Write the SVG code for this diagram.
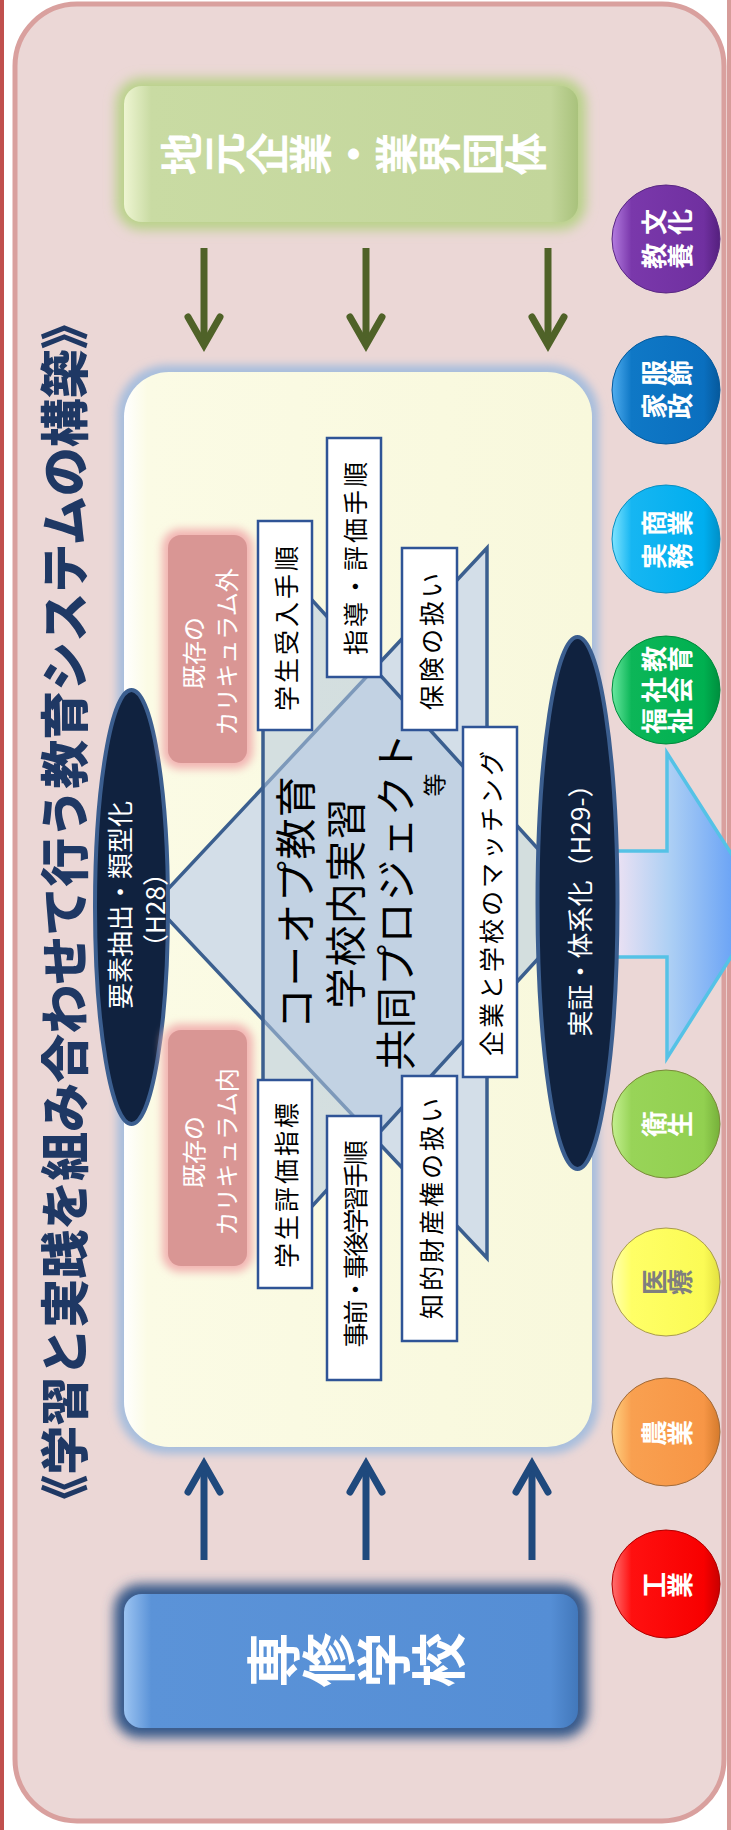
<svg xmlns="http://www.w3.org/2000/svg" width="731" height="1830" viewBox="0 0 731 1830">
<defs>
<style>
.t{font-family:"Noto Sans CJK JP","Noto Sans",sans-serif;}
.rt{text-anchor:middle;dominant-baseline:central;}
.box{fill:#ffffff;stroke:#2f5496;stroke-width:2.5}
.bt{font-size:25px;fill:#000000;letter-spacing:3px}
.ct{font-size:41px;fill:#000000;letter-spacing:1.4px}
.et{font-size:26px;fill:#ffffff}
.pt{font-size:24px;fill:#ffffff}
.ell{fill:#10223f;stroke:#3b5e8f;stroke-width:4}
.pk{fill:#d99694}
.ci{font-size:26px;font-weight:bold;fill:#ffffff}
.ga{stroke:#4f6228;stroke-width:7;fill:none}
.ba{stroke:#1f497d;stroke-width:7;fill:none}
</style>
<filter id="blur6" x="-30%" y="-30%" width="160%" height="160%"><feGaussianBlur stdDeviation="6"/></filter>
<filter id="blur4" x="-30%" y="-30%" width="160%" height="160%"><feGaussianBlur stdDeviation="4"/></filter>
<marker id="mg" markerUnits="userSpaceOnUse" viewBox="-36 -22 44 44" markerWidth="44" markerHeight="44" refX="0" refY="0" orient="auto" overflow="visible">
<path d="M-28,-16 L0,0 L-28,16" fill="none" stroke="#4f6228" stroke-width="7" stroke-linecap="round"/>
</marker>
<marker id="mb" markerUnits="userSpaceOnUse" viewBox="-36 -22 44 44" markerWidth="44" markerHeight="44" refX="0" refY="0" orient="auto" overflow="visible">
<path d="M-28,-16 L0,0 L-28,16" fill="none" stroke="#1f497d" stroke-width="7" stroke-linecap="round"/>
</marker>
<linearGradient id="gGreen" x1="0" y1="0" x2="1" y2="0">
<stop offset="0" stop-color="#eef5d2"/><stop offset="0.06" stop-color="#c9dba3"/><stop offset="0.94" stop-color="#c3d69b"/><stop offset="1" stop-color="#a9c27c"/>
</linearGradient>
<linearGradient id="gBlue" x1="0" y1="0" x2="1" y2="0">
<stop offset="0" stop-color="#9cc4f2"/><stop offset="0.06" stop-color="#5b93d8"/><stop offset="0.94" stop-color="#558ed5"/><stop offset="1" stop-color="#4278bb"/>
</linearGradient>
<linearGradient id="gCream" x1="0" y1="0" x2="1" y2="0">
<stop offset="0" stop-color="#ffffff"/><stop offset="0.05" stop-color="#fbfbe5"/><stop offset="1" stop-color="#f8f8dc"/>
</linearGradient>
<linearGradient id="gArrow" gradientUnits="userSpaceOnUse" x1="610" y1="0" x2="740" y2="0">
<stop offset="0" stop-color="#f3e3f3"/><stop offset="0.45" stop-color="#aed0f4"/><stop offset="1" stop-color="#649ff6"/>
</linearGradient>
<linearGradient id="cPur" x1="0" y1="0" x2="1" y2="0"><stop offset="0" stop-color="#b37ce0"/><stop offset="0.18" stop-color="#7a38ab"/><stop offset="0.85" stop-color="#7030a0"/><stop offset="1" stop-color="#55207e"/></linearGradient>
<linearGradient id="cBlu" x1="0" y1="0" x2="1" y2="0"><stop offset="0" stop-color="#50aef0"/><stop offset="0.18" stop-color="#0f78c6"/><stop offset="0.85" stop-color="#0a6fbf"/><stop offset="1" stop-color="#06599c"/></linearGradient>
<linearGradient id="cCya" x1="0" y1="0" x2="1" y2="0"><stop offset="0" stop-color="#7fe4ff"/><stop offset="0.18" stop-color="#16b6f2"/><stop offset="0.85" stop-color="#00aeef"/><stop offset="1" stop-color="#0090c8"/></linearGradient>
<linearGradient id="cGrn" x1="0" y1="0" x2="1" y2="0"><stop offset="0" stop-color="#6ae8a0"/><stop offset="0.18" stop-color="#0cb658"/><stop offset="0.85" stop-color="#00b050"/><stop offset="1" stop-color="#008f3e"/></linearGradient>
<linearGradient id="cLim" x1="0" y1="0" x2="1" y2="0"><stop offset="0" stop-color="#c4f090"/><stop offset="0.18" stop-color="#98d458"/><stop offset="0.85" stop-color="#92d050"/><stop offset="1" stop-color="#76b03a"/></linearGradient>
<linearGradient id="cYel" x1="0" y1="0" x2="1" y2="0"><stop offset="0" stop-color="#ffffb0"/><stop offset="0.18" stop-color="#ffff66"/><stop offset="0.85" stop-color="#fbfb55"/><stop offset="1" stop-color="#e2e040"/></linearGradient>
<linearGradient id="cOra" x1="0" y1="0" x2="1" y2="0"><stop offset="0" stop-color="#ffd080"/><stop offset="0.18" stop-color="#f9a050"/><stop offset="0.85" stop-color="#f79646"/><stop offset="1" stop-color="#d47a2c"/></linearGradient>
<linearGradient id="cRed" x1="0" y1="0" x2="1" y2="0"><stop offset="0" stop-color="#ff7070"/><stop offset="0.18" stop-color="#ff1010"/><stop offset="0.85" stop-color="#f80000"/><stop offset="1" stop-color="#c80000"/></linearGradient>
</defs>

<g id="frame">
<rect width="731" height="1830" fill="#ffffff"/>
<rect x="0" y="0" width="4" height="1830" fill="#c0504d"/>
<rect x="727" y="0" width="4" height="1830" fill="#d79c9a"/>
<rect x="15" y="4" width="709" height="1817" rx="62" fill="#ebd7d6" stroke="#d9a09e" stroke-width="5"/>
</g>

<g id="title">
<text class="t rt" transform="translate(61,912) rotate(-90)" font-size="49" font-weight="900" fill="#1f3864">《学習と実践を組み合わせて行う教育システムの構築》</text>
</g>

<g id="node-jimoto">
<rect x="116" y="78" width="470" height="152" rx="26" fill="#b9d28a" filter="url(#blur6)"/>
<rect x="124" y="86" width="454" height="136" rx="18" fill="url(#gGreen)"/>
<text class="t" x="198.3" y="175.5" rotate="-90" font-size="43" font-weight="bold" fill="#ffffff">地元企業・業界団体</text>
</g>

<g id="node-inner">
<rect x="117" y="365" width="482" height="1089" rx="50" fill="#a7bedd" filter="url(#blur4)"/>
<rect x="124" y="372" width="468" height="1075" rx="45" fill="url(#gCream)"/>
</g>

<g id="bowtie">
<polygon points="154,904 487,548 487,1258" fill="#d3dee8" stroke="#3b5f8f" stroke-width="3.5" stroke-linejoin="miter"/>
<polygon points="588,904 263,546 263,1260" fill="#b4c9de" fill-opacity="0.55" stroke="#3b5f8f" stroke-width="3.5"/>
</g>

<g id="connectors">
<path d="M600,851 L667,851 L667,753 L764,905 L667,1058 L667,957 L600,957 Z" fill="url(#gArrow)" stroke="#55c2e6" stroke-width="3.5"/>
<line class="ga" x1="204" y1="248" x2="204" y2="345" marker-end="url(#mg)"/>
<line class="ga" x1="366" y1="248" x2="366" y2="345" marker-end="url(#mg)"/>
<line class="ga" x1="548" y1="248" x2="548" y2="345" marker-end="url(#mg)"/>
<line class="ba" x1="204" y1="1560" x2="204" y2="1464" marker-end="url(#mb)"/>
<line class="ba" x1="366" y1="1560" x2="366" y2="1464" marker-end="url(#mb)"/>
<line class="ba" x1="532" y1="1560" x2="532" y2="1464" marker-end="url(#mb)"/>
</g>

<g id="node-h28">
<ellipse class="ell" cx="131.5" cy="907" rx="36.5" ry="217"/>
<text class="t rt et" transform="translate(118.5,905) rotate(-90)">要素抽出・類型化</text>
<text class="t rt et" transform="translate(153,910) rotate(-90)">（H28）</text>
</g>

<g id="node-h29">
<ellipse class="ell" cx="577.5" cy="903" rx="40" ry="266"/>
<text class="t rt et" transform="translate(578,904) rotate(-90)">実証・体系化（H29-）</text>
</g>

<g id="node-gai">
<rect x="162" y="529" width="91" height="240" rx="18" fill="#f2b4b2" filter="url(#blur4)"/>
<rect x="168" y="535" width="79" height="228" rx="13" class="pk"/>
<text class="t rt pt" transform="translate(192,653) rotate(-90)">既存の</text>
<text class="t rt pt" transform="translate(225,652) rotate(-90)">カリキュラム外</text>
</g>

<g id="node-nai">
<rect x="162" y="1024" width="91" height="248" rx="18" fill="#f2b4b2" filter="url(#blur4)"/>
<rect x="168" y="1030" width="79" height="236" rx="13" class="pk"/>
<text class="t rt pt" transform="translate(192,1152) rotate(-90)">既存の</text>
<text class="t rt pt" transform="translate(225,1152) rotate(-90)">カリキュラム内</text>
</g>

<g id="node-ukeire">
<rect class="box" x="258" y="521" width="54" height="209"/>
<text class="t rt bt" transform="translate(285,627) rotate(-90)">学生受入手順</text>
</g>
<g id="node-shido">
<rect class="box" x="327" y="438" width="54" height="239"/>
<text class="t rt bt" transform="translate(354,557) rotate(-90)">指導・評価手順</text>
</g>
<g id="node-hoken">
<rect class="box" x="402" y="548" width="55" height="182"/>
<text class="t rt bt" transform="translate(430,640) rotate(-90)">保険の扱い</text>
</g>
<g id="node-matching">
<rect class="box" x="463" y="727" width="54" height="350"/>
<text class="t rt bt" transform="translate(490,902) rotate(-90)">企業と学校のマッチング</text>
</g>
<g id="node-hyoka">
<rect class="box" x="258" y="1080" width="54" height="208"/>
<text class="t rt bt" transform="translate(285,1184) rotate(-90)">学生評価指標</text>
</g>
<g id="node-jizen">
<rect class="box" x="327" y="1116" width="54" height="264"/>
<text class="t rt bt" transform="translate(354,1245) rotate(-90)" style="letter-spacing:-2.2px">事前・事後学習手順</text>
</g>
<g id="node-chiteki">
<rect class="box" x="402" y="1076" width="55" height="265"/>
<text class="t rt bt" transform="translate(430,1207) rotate(-90)">知的財産権の扱い</text>
</g>

<g id="node-center">
<text class="t rt ct" transform="translate(293,902) rotate(-90)">コーオプ教育</text>
<text class="t rt ct" transform="translate(343,903) rotate(-90)">学校内実習</text>
<text class="t rt ct" transform="translate(393,901) rotate(-90)">共同プロジェクト</text>
<text class="t rt" transform="translate(433,785) rotate(-90)" font-size="23" fill="#000000">等</text>
</g>

<g id="node-bunka">
<circle cx="666" cy="239" r="54" fill="url(#cPur)" stroke="#5a2883" stroke-width="1"/>
<text class="t ci" x="663.9" y="235" rotate="-90">文化</text>
<text class="t ci" x="663.9" y="269" rotate="-90">教養</text>
</g>
<g id="node-kasei">
<circle cx="666" cy="390" r="54" fill="url(#cBlu)" stroke="#065a9c" stroke-width="1"/>
<text class="t ci" x="663.9" y="386" rotate="-90">服飾</text>
<text class="t ci" x="663.9" y="419" rotate="-90">家政</text>
</g>
<g id="node-shogyo">
<circle cx="666" cy="539" r="54" fill="url(#cCya)" stroke="#0a8ec0" stroke-width="1"/>
<text class="t ci" x="663.9" y="536" rotate="-90">商業</text>
<text class="t ci" x="663.9" y="569" rotate="-90">実務</text>
</g>
<g id="node-fukushi">
<circle cx="666" cy="690" r="54" fill="url(#cGrn)" stroke="#008a3c" stroke-width="1"/>
<text class="t ci" x="663.9" y="672" rotate="-90">教育</text>
<text class="t ci" x="663.9" y="703" rotate="-90">社会</text>
<text class="t ci" x="663.9" y="734" rotate="-90">福祉</text>
</g>
<g id="node-eisei">
<circle cx="666" cy="1124" r="54" fill="url(#cLim)" stroke="#7a8a3a" stroke-width="1"/>
<text class="t ci" x="663.9" y="1137" rotate="-90">衛生</text>
</g>
<g id="node-iryo">
<circle cx="666" cy="1282" r="54" fill="url(#cYel)" stroke="#a89a50" stroke-width="1"/>
<text class="t ci" x="663.9" y="1295" rotate="-90" style="fill:#7f7f7f">医療</text>
</g>
<g id="node-nogyo">
<circle cx="666" cy="1432" r="54" fill="url(#cOra)" stroke="#a06a3a" stroke-width="1"/>
<text class="t ci" x="663.9" y="1446" rotate="-90">農業</text>
</g>
<g id="node-kogyo">
<circle cx="666" cy="1584" r="54" fill="url(#cRed)" stroke="#b00000" stroke-width="1"/>
<text class="t ci" x="663.9" y="1598" rotate="-90">工業</text>
</g>

<g id="node-senshu">
<rect x="114" y="1584" width="474" height="154" rx="26" fill="#36598a" filter="url(#blur6)"/>
<rect x="124" y="1594" width="454" height="134" rx="18" fill="url(#gBlue)"/>
<text class="t" x="293.9" y="1687.5" rotate="-90" font-size="55" font-weight="bold" fill="#ffffff">専修学校</text>
</g>
</svg>
